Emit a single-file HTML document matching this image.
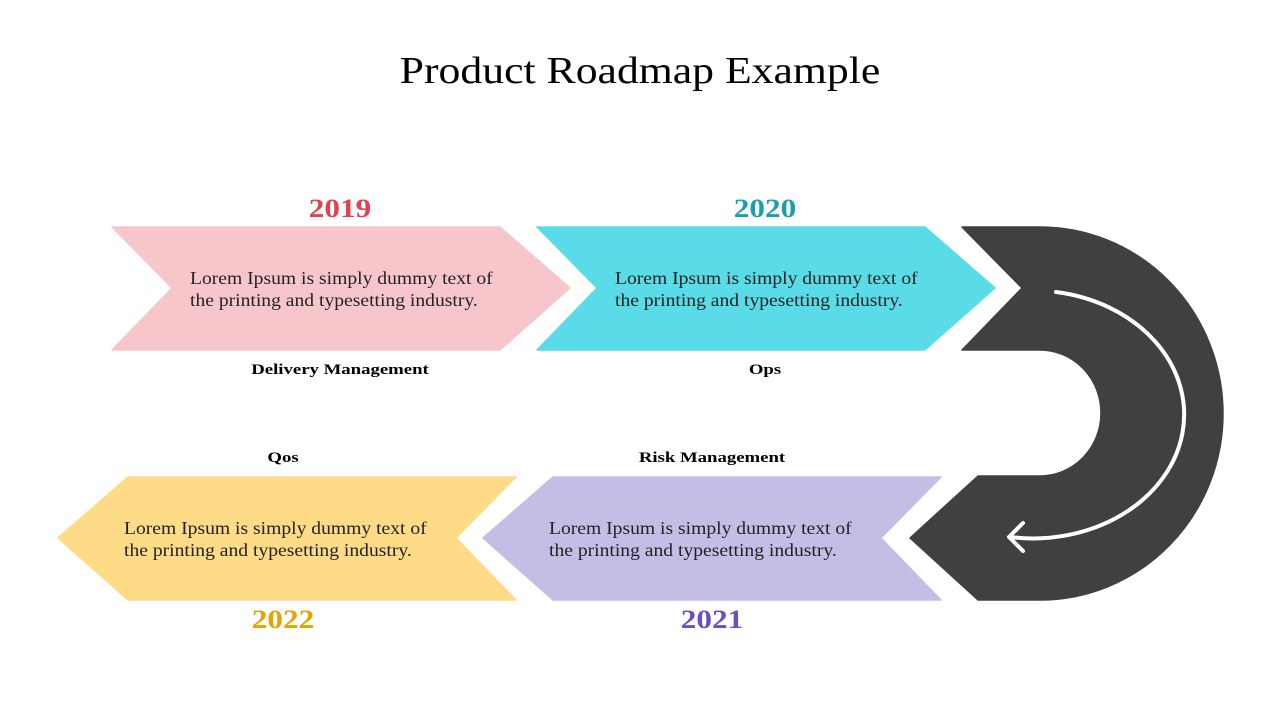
<!DOCTYPE html>
<html><head><style>
body{margin:0;width:1280px;height:720px;background:#fff;overflow:hidden;position:relative;font-family:"Liberation Serif",serif}
.t{position:absolute;white-space:nowrap}
.c{text-align:center;transform-origin:center}
.b{font-size:17.5px;line-height:22px;color:#222;transform:scaleX(1.12);transform-origin:left}
.y{font-size:26px;font-weight:bold;transform:scaleX(1.2)}
.l{font-size:15px;font-weight:bold;transform:scaleX(1.25)}
</style></head><body>
<svg width="1280" height="720" style="position:absolute;left:0;top:0" stroke-linejoin="round">
<polygon points="112,227 500,227 570,288 500,350 112,350 172,288" fill="#f7c6cb" stroke="#f7c6cb" stroke-width="1.5"/>
<polygon points="537,227 925,227 995,288 925,350 537,350 597,288" fill="#59dce8" stroke="#59dce8" stroke-width="1.5"/>
<polygon points="128,477 516,477 456,538 516,600 128,600 58,538" fill="#fedb87" stroke="#fedb87" stroke-width="1.5"/>
<polygon points="553,477 941,477 881,538 941,600 553,600 483,538" fill="#c4bde5" stroke="#c4bde5" stroke-width="1.5"/>
<path d="M962,227 L1040,227 A183,186.5 0 0 1 1040,600 L978,600 L910,538 L978,476 L1040,476 A61,63 0 0 0 1040,350 L962,350 L1022,288 Z" fill="#404040" stroke="#404040" stroke-width="1.5"/>
<path d="M1056,292 A150,123 0 0 1 1010,537" fill="none" stroke="#fff" stroke-width="4" stroke-linecap="round"/>
<polyline points="1023,523 1009,537 1023,551" fill="none" stroke="#fff" stroke-width="4" stroke-linecap="round"/>
</svg>
<div class="t c" style="left:0;width:1280px;top:49px;font-size:38px;transform:scaleX(1.15)">Product Roadmap Example</div>
<div class="t c y" style="left:240px;width:200px;top:194px;color:#e0424f">2019</div>
<div class="t c y" style="left:665px;width:200px;top:194px;color:#1aa0ad">2020</div>
<div class="t c y" style="left:183px;width:200px;top:605px;color:#e4a400">2022</div>
<div class="t c y" style="left:612px;width:200px;top:605px;color:#6a4fc0">2021</div>
<div class="t b" style="left:190px;top:267px">Lorem Ipsum is simply dummy text of<br>the printing and typesetting industry.</div>
<div class="t b" style="left:615px;top:267px">Lorem Ipsum is simply dummy text of<br>the printing and typesetting industry.</div>
<div class="t b" style="left:124px;top:517px">Lorem Ipsum is simply dummy text of<br>the printing and typesetting industry.</div>
<div class="t b" style="left:549px;top:517px">Lorem Ipsum is simply dummy text of<br>the printing and typesetting industry.</div>
<div class="t c l" style="left:240px;width:200px;top:362px">Delivery Management</div>
<div class="t c l" style="left:665px;width:200px;top:362px">Ops</div>
<div class="t c l" style="left:183px;width:200px;top:450px">Qos</div>
<div class="t c l" style="left:612px;width:200px;top:450px">Risk Management</div>
</body></html>
